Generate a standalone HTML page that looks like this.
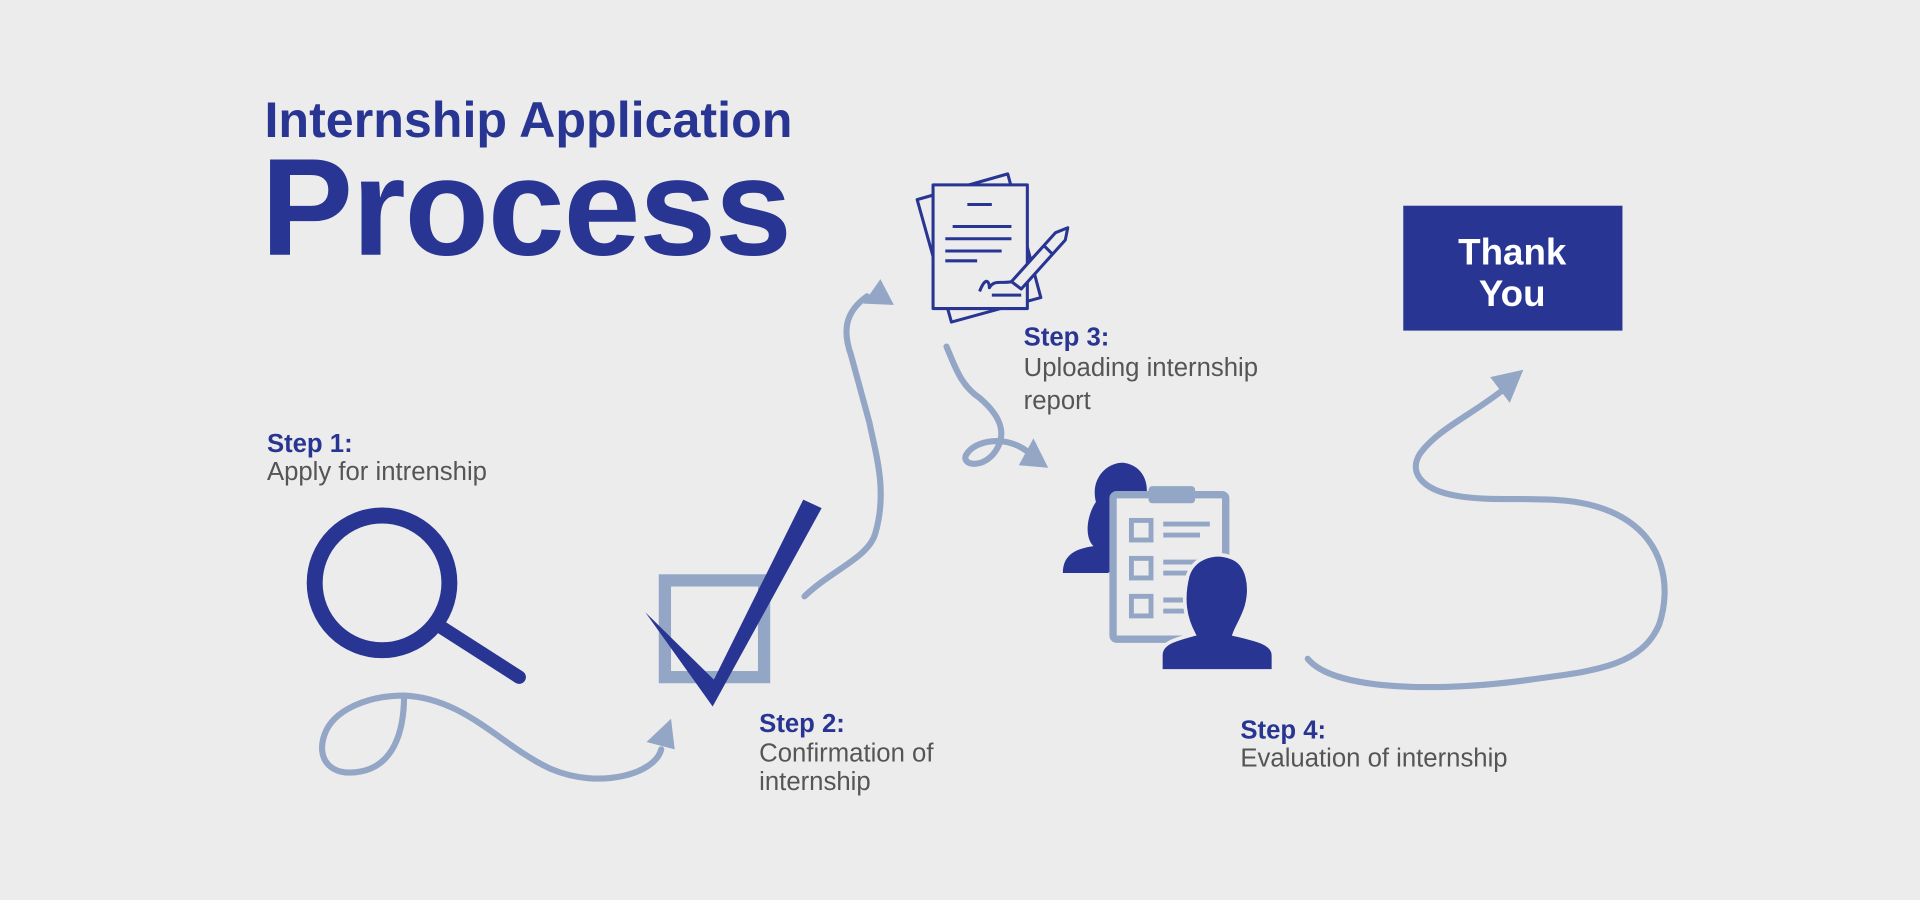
<!DOCTYPE html>
<html><head><meta charset="utf-8"><style>
html,body{margin:0;padding:0;background:#ececec;}
svg{display:block}
</style></head><body>
<svg width="1920" height="900" viewBox="0 0 1568 735" xmlns="http://www.w3.org/2000/svg" font-family="Liberation Sans, sans-serif">
<rect width="1568" height="735" fill="#ececec"/>
<g fill="#283593" font-weight="bold">
<text x="216" y="112" font-size="41">Internship Application</text>
<text x="213" y="208" font-size="113" letter-spacing="-1">Process</text>
<text x="218" y="369" font-size="21">Step 1:</text>
<text x="620" y="598" font-size="21">Step 2:</text>
<text x="836" y="282" font-size="21">Step 3:</text>
<text x="1013" y="603" font-size="21">Step 4:</text>
</g>
<g fill="#555" font-size="21">
<text x="218" y="392">Apply for intrenship</text>
<text x="620" y="622">Confirmation of</text>
<text x="620" y="645">internship</text>
<text x="836" y="307">Uploading internship</text>
<text x="836" y="334">report</text>
<text x="1013" y="626">Evaluation of internship</text>
</g>
<circle cx="312" cy="476" r="55" fill="none" stroke="#283593" stroke-width="13"/>
<line x1="360" y1="512" x2="424" y2="553" stroke="#283593" stroke-width="11" stroke-linecap="round"/>
<g fill="none" stroke="#93a6c6" stroke-width="5" stroke-linecap="round">
<path d="M330 568 C330 600 320 625 295 630 C270 635 258 620 265 600 C272 580 300 568 330 568 C380 570 410 610 450 628 C490 645 535 632 540 612"/>
<path d="M657 487 C680 465 710 455 715 435 C725 400 715 370 710 345 L695 290 C688 270 690 255 708 242"/>
<path d="M773 283 C780 300 785 315 800 325 C820 342 820 355 815 365 C805 385 782 380 790 370 C797 360 820 355 838 368"/>
<path d="M1068 538 C1090 565 1180 565 1250 555 C1300 548 1340 545 1355 510 C1365 480 1360 440 1320 420 C1280 400 1230 412 1190 405 C1160 400 1150 385 1160 370 C1175 350 1200 340 1228 318"/>
</g>
<g fill="#93a6c6">
<polygon points="551,612 528,606 548,587"/>
<polygon points="719,228 705,248 730,249"/>
<polygon points="856,382 832,380 844,358"/>
<polygon points="1244,302 1217,308 1233,329"/>
</g>
<rect x="543" y="474" width="81" height="79" fill="none" stroke="#93a6c6" stroke-width="10"/>
<polygon points="527,500 582,577 671,415 656,408 583,555" fill="#283593"/>
<g fill="none" stroke="#283593" stroke-width="2.5" stroke-linejoin="round">
<polygon points="749,163 823,142 850,243 777,263" fill="#ececec"/>
<rect x="762" y="151" width="77" height="101" fill="#ececec"/>
<line x1="790" y1="167" x2="810" y2="167"/>
<line x1="778" y1="185" x2="826" y2="185"/>
<line x1="772" y1="195" x2="826" y2="195"/>
<line x1="772" y1="205" x2="818" y2="205"/>
<line x1="772" y1="213" x2="798" y2="213"/>
<line x1="810" y1="241" x2="834" y2="241"/>
<path d="M800 238 C805 225 808 230 808 235 C812 228 818 232 826 230"/>
<path d="M826 230 L862 190 L872 186 L870 196 L834 236 Z" fill="#ececec"/>
<line x1="852" y1="200" x2="860" y2="208"/>
</g>
<g fill="#283593">
<path d="M868 468 C868 452 880 448 893 446 C885 438 888 420 895 410 C890 390 905 377 918 378 C933 380 940 395 935 410 L920 455 L905 468 Z"/>
</g>
<rect x="909" y="404" width="92" height="118" rx="3" fill="#ececec" stroke="#93a6c6" stroke-width="6"/>
<rect x="938" y="397" width="38" height="14" rx="3" fill="#93a6c6"/>
<g fill="none" stroke="#93a6c6" stroke-width="4">
<rect x="924" y="425" width="16" height="16"/><rect x="924" y="456" width="16" height="16"/><rect x="924" y="487" width="16" height="16"/>
</g>
<g stroke="#93a6c6" stroke-width="4">
<line x1="950" y1="428" x2="988" y2="428"/><line x1="950" y1="437" x2="980" y2="437"/>
<line x1="950" y1="459" x2="988" y2="459"/><line x1="950" y1="468" x2="975" y2="468"/>
<line x1="950" y1="490" x2="975" y2="490"/><line x1="950" y1="499" x2="970" y2="499"/>
</g>
<path d="M948 548 L948 535 C948 525 960 522 975 518 C968 505 965 490 970 470 C975 455 992 450 1005 455 C1020 460 1022 480 1018 495 C1015 505 1010 512 1008 518 C1025 522 1040 525 1040 535 L1040 548 Z" fill="#283593" stroke="#ececec" stroke-width="3"/>
<rect x="1146" y="168" width="179" height="102" fill="#283593"/>
<g fill="#fff" font-weight="bold" font-size="30" text-anchor="middle">
<text x="1235" y="216">Thank</text>
<text x="1235" y="250">You</text>
</g>
</svg>
</body></html>
